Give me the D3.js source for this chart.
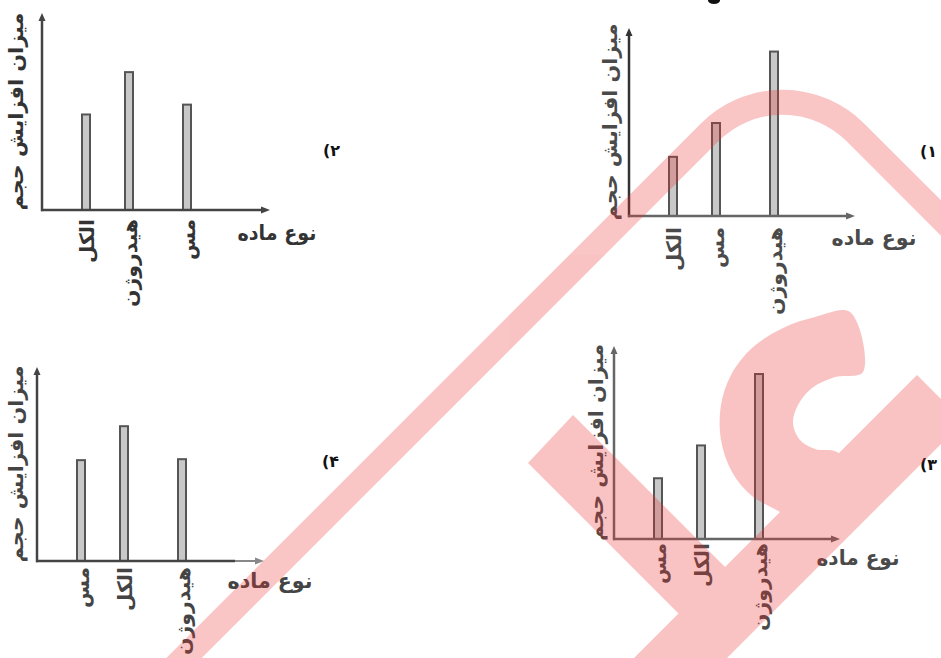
<!DOCTYPE html>
<html><head><meta charset="utf-8">
<script src="https://cdn.jsdelivr.net/npm/d3@7"></script>
<style>html,body{margin:0;padding:0;background:#fff}svg{display:block}</style>
</head><body>
<svg id="chart" width="941" height="658"></svg>
<script>
// ---------------- data ----------------
const yTitle = "میزان افزایش حجم";
const xTitle = "نوع ماده";
const panelLabels = ["(۱", "(۲", "(۳", "(۴"];

const categories1 = ["الکل", "مس", "هیدروژن"];
const values1 = [32, 50, 88];

const categories2 = ["الکل", "هیدروژن", "مس"];
const values2 = [49, 70.5, 54];

const categories3 = ["مس", "الکل", "هیدروژن"];
const values3 = [32, 49, 86];

const categories4 = ["مس", "الکل", "هیدروژن"];
const values4 = [52.5, 70, 53];

// ---------------- layout / style ----------------
const svg = d3.select("#chart");
const FONT = "'DejaVu Sans', sans-serif";

const panels = [
  {cats: categories1, vals: values1, label: panelLabels[0],
   ox: 629, oy: 216, top: 28, xend: 855, xSplit: null,
   yCol: "#333", xCol: "#666", xCol2: "#666", txt: "#4a4a4a",
   yLabX: 610, yLabLen: 197, xLabCx: 874, xLabCy: 238, xLabLen: 85,
   numX: 920, numY: 157, catStart: 227},
  {cats: categories2, vals: values2, label: panelLabels[1],
   ox: 42, oy: 210, top: 13, xend: 270, xSplit: null,
   yCol: "#444", xCol: "#444", xCol2: "#444", txt: "#333",
   yLabX: 16, yLabLen: 198, xLabCx: 277, xLabCy: 233, xLabLen: 79,
   numX: 323, numY: 156, catStart: 219},
  {cats: categories3, vals: values3, label: panelLabels[2],
   ox: 614, oy: 539, top: 346, xend: 840, xSplit: null,
   yCol: "#666", xCol: "#666", xCol2: "#666", txt: "#4a4a4a",
   yLabX: 596, yLabLen: 197, xLabCx: 858, xLabCy: 558, xLabLen: 83,
   numX: 920, numY: 470, catStart: 543},
  {cats: categories4, vals: values4, label: panelLabels[3],
   ox: 37, oy: 561, top: 367, xend: 264, xSplit: 235,
   yCol: "#444", xCol: "#444", xCol2: "#888", txt: "#444",
   yLabX: 16, yLabLen: 197, xLabCx: 270, xLabCy: 581, xLabLen: 85,
   numX: 322, numY: 467, catStart: 567}
];

const catLen = {"الکل": 44, "مس": 41, "هیدروژن": 88};
const barW = 8;

panels.forEach(p => {
  const g = svg.append("g");
  const y = d3.scaleLinear().domain([0, 100]).range([p.oy, p.top]);
  const x = d3.scaleLinear().domain([0, 1, 2]).range([p.ox + 44, p.ox + 87, p.ox + 145]);

  // bars
  g.selectAll("rect").data(p.vals).join("rect")
    .attr("x", (d, i) => x(i) - barW / 2)
    .attr("y", d => y(d) + 1)
    .attr("width", barW)
    .attr("height", d => p.oy - y(d) - 1)
    .attr("fill", "#c8c8c8")
    .attr("stroke", "#555")
    .attr("stroke-width", 2);

  // axes
  g.append("line").attr("x1", p.ox).attr("y1", p.oy + 1.2).attr("x2", p.ox).attr("y2", p.top + 4)
    .attr("stroke", p.yCol).attr("stroke-width", 2.5);
  g.append("path").attr("d", `M${p.ox - 3.5},${p.top + 8} L${p.ox},${p.top} L${p.ox + 3.5},${p.top + 8} Z`)
    .attr("fill", p.yCol);
  const split = p.xSplit || p.xend - 4;
  g.append("line").attr("x1", p.ox - 1).attr("y1", p.oy).attr("x2", split).attr("y2", p.oy)
    .attr("stroke", p.xCol).attr("stroke-width", 2.5);
  if (p.xSplit) {
    g.append("line").attr("x1", split).attr("y1", p.oy).attr("x2", p.xend - 4).attr("y2", p.oy)
      .attr("stroke", p.xCol2).attr("stroke-width", 2);
  }
  g.append("path").attr("d", `M${p.xend - 9},${p.oy - 3.5} L${p.xend},${p.oy} L${p.xend - 9},${p.oy + 3.5} Z`)
    .attr("fill", p.xCol2);

  // category labels (rotated)
  g.selectAll("text.cat").data(p.cats).join("text").attr("class", "cat")
    .attr("transform", (d, i) => `translate(${x(i) + 1},${p.catStart}) rotate(-90)`)
    .attr("text-anchor", "end")
    .attr("dominant-baseline", "central")
    .attr("textLength", d => catLen[d])
    .attr("lengthAdjust", "spacingAndGlyphs")
    .attr("font-family", FONT).attr("font-weight", "bold").attr("font-size", 20)
    .attr("fill", p.txt)
    .text(d => d);

  // y title
  g.append("text")
    .attr("transform", `translate(${p.yLabX},${(p.top + p.oy) / 2}) rotate(-90)`)
    .attr("text-anchor", "middle").attr("dominant-baseline", "central")
    .attr("textLength", p.yLabLen).attr("lengthAdjust", "spacingAndGlyphs")
    .attr("font-family", FONT).attr("font-weight", "bold").attr("font-size", 20)
    .attr("fill", p.txt).text(yTitle);

  // x title
  g.append("text")
    .attr("x", p.xLabCx).attr("y", p.xLabCy)
    .attr("text-anchor", "middle").attr("dominant-baseline", "central")
    .attr("textLength", p.xLabLen).attr("lengthAdjust", "spacingAndGlyphs")
    .attr("font-family", FONT).attr("font-weight", "bold").attr("font-size", 21)
    .attr("fill", p.txt).text(xTitle);

  // panel number
  g.append("text")
    .attr("x", p.numX).attr("y", p.numY)
    .attr("font-family", FONT).attr("font-weight", "bold").attr("font-size", 16)
    .attr("fill", "#111").text(p.label);
});

// small cut-off glyph at the top edge
svg.append("ellipse").attr("cx", 714).attr("cy", 0.5).attr("rx", 6).attr("ry", 3.5).attr("fill", "#111");

// ---------------- watermark ----------------
const wm = svg.append("g").attr("opacity", 0.28);
const WMC = "rgb(235,45,45)";
wm.append("path")
  .attr("d", "M150,692 L709.5,132.5 A103,103 0 0 1 855.5,132.5 L1000,277")
  .attr("fill", "none").attr("stroke", WMC).attr("stroke-width", 25);
const bandA = [[528,463],[573,415],[748,590],[702,637]];
const bandB = [[917,375],[963.5,421.5],[685,700],[592,700]];
const cShape = [[850,312],[815,317],[783,328],[752,348],[731,375],[721,405],[721,440],[732,472],[752,496],[780,512],[805,530],
                [850,470],[837,452],[815,449],[800,440],[793,423],[798,405],[812,388],[835,377],[863,372]];
const lin = d3.line().curve(d3.curveLinearClosed);
const smooth = d3.line().curve(d3.curveCatmullRomClosed.alpha(0.5));
wm.append("path").attr("d", lin(bandA)).attr("fill", WMC);
wm.append("path").attr("d", lin(bandB)).attr("fill", WMC);
wm.append("path").attr("d", smooth(cShape)).attr("fill", WMC);
</script>
</body></html>
